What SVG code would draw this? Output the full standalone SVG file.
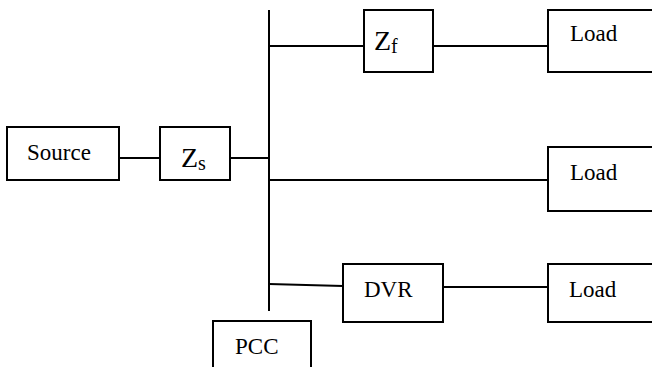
<svg xmlns="http://www.w3.org/2000/svg" width="652" height="367" viewBox="0 0 652 367">
<style>
.b{fill:#fff;stroke:#000;stroke-width:2}
.w{stroke:#000;stroke-width:2;fill:none}
.f{font-family:"Liberation Serif","Times New Roman",Times,serif;fill:#000}
.t{font-size:23px}
.z{font-size:28px}
.s{font-size:20px}
</style>
<rect width="652" height="367" fill="#fff"/>
<g id="connectors">
<line class="w" x1="269" y1="10" x2="269" y2="311"/>
<line class="w" x1="119" y1="158" x2="160" y2="158"/>
<line class="w" x1="230" y1="158" x2="269" y2="158"/>
<line class="w" x1="269" y1="46" x2="364" y2="46"/>
<line class="w" x1="433" y1="46" x2="548" y2="46"/>
<line class="w" x1="269" y1="180" x2="548" y2="180"/>
<line class="w" x1="269" y1="284" x2="343" y2="286"/>
<line class="w" x1="443" y1="287" x2="548" y2="287"/>
</g>
<g class="f">
<g id="source"><rect class="b" x="7" y="127" width="112" height="53"/><text class="t" x="27" y="160">Source</text></g>
<g id="zs"><rect class="b" x="160" y="127" width="70" height="53"/><text class="z" x="181" y="167">Z<tspan class="s" dy="3">s</tspan></text></g>
<g id="zf"><rect class="b" x="364" y="10" width="69" height="62"/><text class="z" x="374" y="50">Z<tspan class="s" dy="3">f</tspan></text></g>
<g id="load1"><rect class="b" x="548" y="10" width="110" height="62"/><text class="t" x="570" y="41">Load</text></g>
<g id="load2"><rect class="b" x="548" y="147" width="110" height="64"/><text class="t" x="570" y="180">Load</text></g>
<g id="dvr"><rect class="b" x="343" y="264" width="100" height="58"/><text class="t" x="364" y="297">DVR</text></g>
<g id="load3"><rect class="b" x="548" y="264" width="110" height="58"/><text class="t" x="569" y="297">Load</text></g>
<g id="pcc"><rect class="b" x="213" y="321" width="98" height="60"/><text class="t" x="235" y="354">PCC</text></g>
</g>
</svg>
